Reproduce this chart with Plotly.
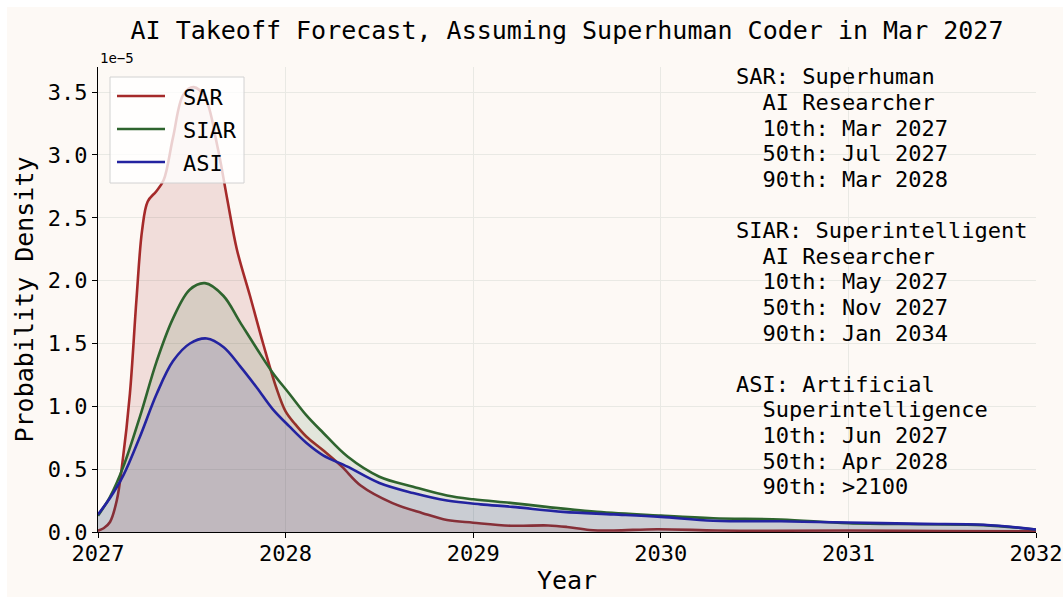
import plotly.graph_objects as go

# Probability density of each milestone, in units of 1e-5
sar_year = [2027.00, 2027.03, 2027.064, 2027.10, 2027.13, 2027.17, 2027.205, 2027.235,
            2027.265, 2027.31, 2027.35, 2027.40, 2027.455, 2027.51, 2027.57, 2027.635,
            2027.69, 2027.74, 2027.81, 2027.88, 2027.95, 2028.00, 2028.05, 2028.11,
            2028.20, 2028.30, 2028.40, 2028.57, 2028.73, 2028.86, 2029.00, 2029.20,
            2029.40, 2029.50, 2029.62, 2029.75, 2029.98, 2030.30, 2030.60, 2031.00,
            2031.50, 2032.00]
sar_density = [0.01, 0.03, 0.08, 0.25, 0.55, 1.10, 1.85, 2.40,
               2.63, 2.71, 2.80, 3.14, 3.48, 3.54, 3.46, 3.08,
               2.64, 2.25, 1.88, 1.50, 1.15, 0.96, 0.86, 0.76,
               0.65, 0.52, 0.37, 0.23, 0.15, 0.095, 0.074, 0.05,
               0.052, 0.04, 0.016, 0.012, 0.022, 0.012, 0.01, 0.012,
               0.008, 0.005]

siar_year = [2027.00, 2027.064, 2027.135, 2027.224, 2027.313, 2027.40, 2027.49, 2027.57,
             2027.668, 2027.757, 2027.846, 2027.93, 2028.02, 2028.11, 2028.20, 2028.33,
             2028.50, 2028.68, 2028.86, 2029.00, 2029.21, 2029.39, 2029.66, 2030.00,
             2030.28, 2030.64, 2031.00, 2031.40, 2031.72, 2032.00]
siar_density = [0.13, 0.28, 0.52, 0.92, 1.36, 1.70, 1.93, 1.98,
                1.88, 1.67, 1.46, 1.27, 1.10, 0.93, 0.79, 0.60,
                0.44, 0.36, 0.29, 0.26, 0.23, 0.20, 0.16, 0.13,
                0.11, 0.10, 0.07, 0.062, 0.055, 0.02]

asi_year = [2027.00, 2027.064, 2027.135, 2027.224, 2027.313, 2027.40, 2027.49, 2027.58,
            2027.67, 2027.757, 2027.846, 2027.93, 2028.02, 2028.11, 2028.20, 2028.33,
            2028.50, 2028.68, 2028.86, 2029.04, 2029.21, 2029.48, 2029.75, 2030.00,
            2030.28, 2030.64, 2031.00, 2031.40, 2031.72, 2032.00]
asi_density = [0.14, 0.27, 0.45, 0.76, 1.10, 1.36, 1.50, 1.54,
               1.47, 1.32, 1.15, 0.98, 0.84, 0.71, 0.61, 0.52,
               0.39, 0.31, 0.25, 0.22, 0.20, 0.16, 0.14, 0.12,
               0.09, 0.085, 0.075, 0.065, 0.058, 0.02]

series_names = ["SAR", "SIAR", "ASI"]
series_colors = ["#a52a2a", "#2e642e", "#2323a0"]
series_fills = ["rgba(165,42,42,0.13)", "rgba(46,100,46,0.13)", "rgba(35,35,160,0.12)"]

x_ticks = [2027, 2028, 2029, 2030, 2031, 2032]
y_ticks = [0.0, 0.5, 1.0, 1.5, 2.0, 2.5, 3.0, 3.5]

summary_lines = [
    "SAR: Superhuman",
    "  AI Researcher",
    "  10th: Mar 2027",
    "  50th: Jul 2027",
    "  90th: Mar 2028",
    "",
    "SIAR: Superintelligent",
    "  AI Researcher",
    "  10th: May 2027",
    "  50th: Nov 2027",
    "  90th: Jan 2034",
    "",
    "ASI: Artificial",
    "  Superintelligence",
    "  10th: Jun 2027",
    "  50th: Apr 2028",
    "  90th: >2100",
]

FONT = "DejaVu Sans Mono, monospace"
BG = "#fdf9f5"
W, H = 1063, 597
L, R, T, B = 98, 27, 67, 65
plot_w, plot_h = W - L - R, H - T - B


def px_x(px):
    return (px - L) / plot_w


def px_y(py):
    return (H - B - py) / plot_h


fig = go.Figure()

series = [(sar_year, sar_density), (siar_year, siar_density), (asi_year, asi_density)]
for i, (xs, ys) in enumerate(series):
    fig.add_trace(go.Scatter(
        x=xs, y=ys, mode="lines", fill="tozeroy", fillcolor=series_fills[i],
        line=dict(width=0, shape="spline", smoothing=1.0),
        showlegend=False, hoverinfo="skip",
    ))
    fig.add_trace(go.Scatter(
        x=xs, y=ys, mode="lines", name=series_names[i], showlegend=False,
        line=dict(color=series_colors[i], width=2.6, shape="spline", smoothing=1.0),
    ))

annotations = []
shapes = [
    # white margin strips along the top and left edges
    dict(type="rect", xref="paper", yref="paper", layer="below",
         x0=px_x(0), x1=px_x(W), y0=px_y(7), y1=px_y(0),
         fillcolor="white", line=dict(width=0)),
    dict(type="rect", xref="paper", yref="paper", layer="below",
         x0=px_x(0), x1=px_x(7), y0=px_y(H), y1=px_y(0),
         fillcolor="white", line=dict(width=0)),
]

# legend box with line samples
shapes.append(dict(
    type="rect", xref="paper", yref="paper", layer="above",
    x0=px_x(110), x1=px_x(244), y0=px_y(183), y1=px_y(77),
    fillcolor="rgba(255,255,255,0.78)", line=dict(color="#d2d2d2", width=1),
))
for i, name in enumerate(series_names):
    row_y = 96 + 33 * i
    shapes.append(dict(
        type="line", xref="paper", yref="paper", layer="above",
        x0=px_x(117), x1=px_x(165), y0=px_y(row_y), y1=px_y(row_y),
        line=dict(color=series_colors[i], width=2.6),
    ))
    annotations.append(dict(
        x=px_x(181), y=px_y(row_y + 1), xref="paper", yref="paper",
        xanchor="left", yanchor="middle", showarrow=False, text=name,
        font=dict(family=FONT, size=22, color="black"),
    ))

for i, line in enumerate(summary_lines):
    if not line:
        continue
    annotations.append(dict(
        x=px_x(734), y=px_y(77 + 25.6 * i), xref="paper", yref="paper",
        xanchor="left", yanchor="middle", showarrow=False,
        text=line.replace(" ", "\u00a0"),
        font=dict(family=FONT, size=22, color="black"),
    ))

annotations.append(dict(
    x=0, y=px_y(58), xref="paper", yref="paper", xanchor="left", yanchor="middle",
    showarrow=False, text="1e\u22125", font=dict(family=FONT, size=14, color="black"),
))

fig.update_layout(
    width=W, height=H,
    margin=dict(l=L, r=R, t=T, b=B, autoexpand=False),
    paper_bgcolor=BG, plot_bgcolor=BG,
    font=dict(family=FONT, size=22, color="black"),
    title=dict(
        text="AI Takeoff Forecast, Assuming Superhuman Coder in Mar 2027",
        x=0.5, xref="paper", y=1 - 30 / H, yref="container",
        xanchor="center", yanchor="middle",
        font=dict(family=FONT, size=25, color="black"),
    ),
    showlegend=False,
    annotations=annotations,
    shapes=shapes,
)

fig.update_xaxes(
    range=[2027, 2032], tickvals=x_ticks, ticktext=[str(v) for v in x_ticks],
    showgrid=True, gridcolor="#e9e9e4", gridwidth=1, zeroline=False,
    showline=True, linecolor="black", linewidth=1.3, mirror=False,
    ticks="outside", ticklen=5, tickwidth=1.3, tickcolor="black",
    tickfont=dict(family=FONT, size=22), automargin=False, ticklabelstandoff=-4,
    title=dict(text="Year", font=dict(family=FONT, size=25), standoff=6),
)
fig.update_yaxes(
    range=[0, 3.7], tickvals=y_ticks, ticktext=[f"{v:.1f}" for v in y_ticks],
    showgrid=True, gridcolor="#e9e9e4", gridwidth=1, zeroline=False,
    showline=True, linecolor="black", linewidth=1.3, mirror=False,
    ticks="outside", ticklen=5, tickwidth=1.3, tickcolor="black",
    tickfont=dict(family=FONT, size=22), automargin=False,
    title=dict(text="Probability Density", font=dict(family=FONT, size=25), standoff=6),
)

fig.write_html("out.html")
